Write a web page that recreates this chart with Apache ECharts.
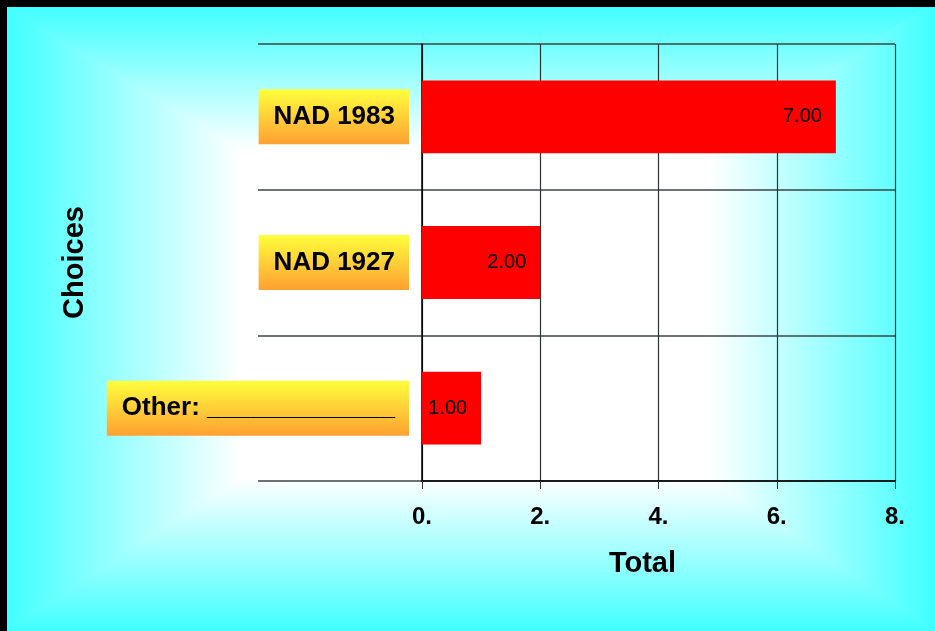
<!DOCTYPE html>
<html>
<head>
<meta charset="utf-8">
<script src="https://cdn.jsdelivr.net/npm/echarts@6/dist/echarts.min.js"></script>
<style>html,body{margin:0;padding:0;background:#40ffff;}#c{width:935px;height:631px;}</style>
</head>
<body>
<div id="c"></div>
<script>
const categories = ['NAD 1983', 'NAD 1927', 'Other: _____________'];
const totals = [7.00, 2.00, 1.00];
const tickLabels = ['0.', '2.', '4.', '6.', '8.'];
const xMin = 0, xMax = 8, xStep = 2;

const W = 935, H = 631;
const FONT = '"Liberation Sans", Arial, sans-serif';
const CYAN = '#40ffff';
const inner = {l: 240, r: 710, t: 150, b: 478};
const stops = [{offset: 0, color: CYAN}, {offset: 1, color: '#ffffff'}];
function lg(x, y, x2, y2) { return {type: 'linear', x, y, x2, y2, global: true, colorStops: stops}; }
const o = 4; // overlap to hide anti-aliasing seams

const bg = [
  {type: 'rect', z: -100, silent: true, shape: {x: 0, y: 0, width: W, height: H}, style: {fill: CYAN}},
  {type: 'polygon', z: -99, silent: true, shape: {points: [[0,-o],[0,H+o],[inner.l+o,inner.b+o],[inner.l+o,inner.t-o]]}, style: {fill: lg(6, 0, inner.l, 0)}},
  {type: 'polygon', z: -99, silent: true, shape: {points: [[W,-o],[W,H+o],[inner.r-o,inner.b+o],[inner.r-o,inner.t-o]]}, style: {fill: lg(W, 0, inner.r, 0)}},
  {type: 'polygon', z: -98, silent: true, shape: {points: [[0,0],[W,0],[inner.r,inner.t],[inner.l,inner.t]]}, style: {fill: lg(0, 7, 0, inner.t)}},
  {type: 'polygon', z: -98, silent: true, shape: {points: [[0,H],[W,H],[inner.r,inner.b],[inner.l,inner.b]]}, style: {fill: lg(0, H, 0, inner.b)}},
  {type: 'rect', z: -97, silent: true, shape: {x: inner.l - 1, y: inner.t - 1, width: inner.r - inner.l + 2, height: inner.b - inner.t + 2}, style: {fill: '#ffffff'}},
  {type: 'rect', z: 50, silent: true, shape: {x: 0, y: 0, width: 7, height: H}, style: {fill: '#000'}},
  {type: 'rect', z: 50, silent: true, shape: {x: 0, y: 0, width: W, height: 7}, style: {fill: '#000'}}
];

const chart = echarts.init(document.getElementById('c'), null, {renderer: 'canvas'});
chart.setOption({
  animation: false,
  backgroundColor: 'transparent',
  graphic: {elements: bg},
  grid: [
    {left: 422, right: 40, top: 44, bottom: 150},
    {left: 258, right: 40, top: 44, bottom: 150}
  ],
  xAxis: [
    {
      gridIndex: 0, type: 'value', min: xMin, max: xMax, interval: xStep,
      name: 'Total', nameLocation: 'middle', nameGap: 68,
      nameTextStyle: {fontFamily: FONT, fontSize: 29, fontWeight: 'bold', color: '#000', padding: [0, 32, 0, 0]},
      axisLine: {show: true, lineStyle: {color: '#000', width: 1.5}},
      axisTick: {show: true, inside: false, length: 8, lineStyle: {color: '#333', width: 1}},
      axisLabel: {
        margin: 24, fontFamily: FONT, fontSize: 24, fontWeight: 'bold', color: '#000',
        formatter: function (v) { const i = Math.round((v - xMin) / xStep); return tickLabels[i] !== undefined ? tickLabels[i] : ''; }
      },
      splitLine: {show: true, lineStyle: {color: '#2b3535', width: 1.2}}
    },
    {gridIndex: 1, type: 'value', min: xMin, max: xMax, show: false}
  ],
  yAxis: [
    {
      gridIndex: 0, type: 'category', data: categories, inverse: true,
      name: 'Choices', nameLocation: 'middle', nameGap: 333, nameRotate: 90,
      nameTextStyle: {fontFamily: FONT, fontSize: 29, fontWeight: 'bold', color: '#000'},
      axisLine: {show: true, lineStyle: {color: '#000', width: 1.5}},
      axisTick: {show: false},
      splitLine: {show: false},
      axisLabel: {
        margin: 13, fontFamily: FONT, fontSize: 26, fontWeight: 'bold', color: '#000',
        padding: [15, 14, 14, 15],
        backgroundColor: {type: 'linear', x: 0, y: 0, x2: 0, y2: 1, colorStops: [{offset: 0, color: '#ffff3c'}, {offset: 1, color: '#ffa032'}]}
      }
    },
    {
      gridIndex: 1, type: 'category', data: categories, inverse: true,
      axisLine: {show: false}, axisTick: {show: false}, axisLabel: {show: false},
      splitLine: {show: true, lineStyle: {color: '#3a4444', width: 1.5}}
    }
  ],
  series: [{
    type: 'bar', xAxisIndex: 0, yAxisIndex: 0, data: totals, barWidth: '50%',
    itemStyle: {color: '#ff0000'},
    label: {
      show: true, position: 'insideRight', distance: 14,
      fontFamily: FONT, fontSize: 20, color: '#000',
      formatter: function (p) { return p.value.toFixed(2); }
    }
  }]
});
</script>
</body>
</html>
